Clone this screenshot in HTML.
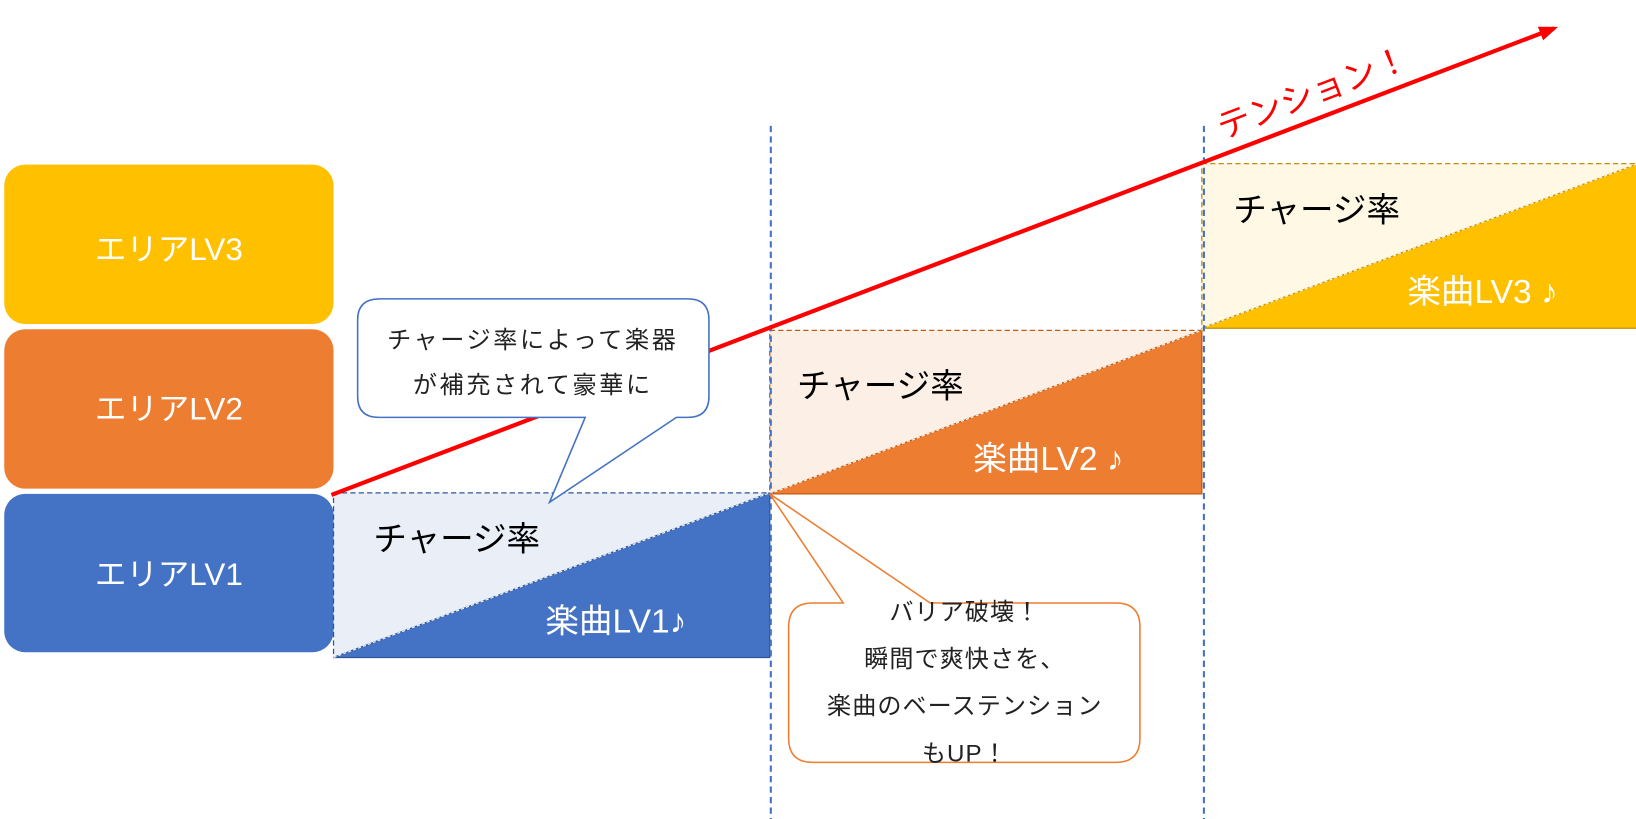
<!DOCTYPE html>
<html><head><meta charset="utf-8"><style>
html,body{margin:0;padding:0;background:#fff;}
svg{display:block;}
text{font-family:"Liberation Sans","Noto Sans CJK JP",sans-serif;}
</style></head><body>
<svg width="1636" height="819" viewBox="0 0 1560 781" xmlns="http://www.w3.org/2000/svg">
<defs>
<marker id="ah" markerWidth="18" markerHeight="14" refX="14" refY="7" orient="auto" markerUnits="userSpaceOnUse"><path d="M0,0 L18,7 L0,14 z" fill="#FF0000"/></marker>
</defs>
<rect x="4" y="157" width="314" height="152" rx="20" fill="#FFC000"/>
<rect x="4" y="314" width="314" height="152" rx="20" fill="#ED7D31"/>
<rect x="4" y="471" width="314" height="151" rx="20" fill="#4472C4"/>
<text x="161" y="248" font-size="30" fill="#fff" text-anchor="middle">エリアLV3</text>
<text x="161" y="400" font-size="30" fill="#fff" text-anchor="middle">エリアLV2</text>
<text x="161" y="558" font-size="30" fill="#fff" text-anchor="middle">エリアLV1</text>

<polygon points="318,470 734,470 318,627" fill="#E9EEF7" stroke="#2F5597" stroke-width="1.2" stroke-dasharray="5,3"/>
<polygon points="318,627 734,470 734,627" fill="#4472C4" stroke="#2F5597" stroke-width="1.2"/>
<line x1="318" y1="627" x2="734" y2="470" stroke="#fff" stroke-width="1" stroke-dasharray="3,2"/>
<text x="356" y="525" font-size="32" fill="#000">チャージ率</text>
<text x="520" y="603" font-size="32" fill="#fff">楽曲LV1♪</text>

<polygon points="734,315 1146,315 734,471" fill="#FBEFE6" stroke="#C55A11" stroke-width="1.2" stroke-dasharray="5,3"/>
<polygon points="734,471 1146,315 1146,471" fill="#ED7D31" stroke="#C55A11" stroke-width="1.2"/>
<line x1="734" y1="471" x2="1146" y2="315" stroke="#fff" stroke-width="1" stroke-dasharray="3,2"/>
<text x="760" y="379" font-size="32" fill="#000">チャージ率</text>
<text x="928" y="448" font-size="32" fill="#fff">楽曲LV2 ♪</text>

<polygon points="1146,156 1562,156 1146,313" fill="#FFF8E5" stroke="#BF9000" stroke-width="1.2" stroke-dasharray="5,3"/>
<polygon points="1146,313 1562,156 1562,313" fill="#FFC000" stroke="#BF9000" stroke-width="1.2"/>
<line x1="1146" y1="313" x2="1562" y2="156" stroke="#fff" stroke-width="1" stroke-dasharray="3,2"/>
<text x="1176" y="211" font-size="32" fill="#000">チャージ率</text>
<text x="1342" y="289" font-size="32" fill="#fff">楽曲LV3 ♪</text>

<line x1="735" y1="120" x2="735" y2="782" stroke="#4472C4" stroke-width="2" stroke-dasharray="6,4"/>
<line x1="1148" y1="120" x2="1148" y2="782" stroke="#4472C4" stroke-width="2" stroke-dasharray="6,4"/>

<line x1="316" y1="472" x2="1482" y2="27" stroke="#FF0000" stroke-width="4" marker-end="url(#ah)"/>
<text x="1166" y="133" font-size="32" fill="#FF0000" transform="rotate(-20.9 1166 133)">テンション！</text>

<path d="M362,285 H656 Q676,285 676,305 V378 Q676,398 656,398 H645 L524,479 L558,398 H361 Q341,398 341,378 V305 Q341,285 362,285 Z" fill="#fff" stroke="#4472C4" stroke-width="1.5"/>
<text x="508" y="332" font-size="23" fill="#222" text-anchor="middle" letter-spacing="2.5">チャージ率によって楽器</text>
<text x="508" y="375" font-size="23" fill="#222" text-anchor="middle" letter-spacing="2.5">が補充されて豪華に</text>

<path d="M775,575 H804 L734,471 L887,575 H1064 Q1087,575 1087,598 V704 Q1087,727 1064,727 H775 Q752,727 752,704 V598 Q752,575 775,575 Z" fill="#fff" stroke="#ED7D31" stroke-width="1.5"/>
<text x="920" y="591" font-size="23" fill="#222" text-anchor="middle" letter-spacing="1">バリア破壊！</text>
<text x="920" y="636" font-size="23" fill="#222" text-anchor="middle" letter-spacing="1">瞬間で爽快さを、</text>
<text x="920" y="681" font-size="23" fill="#222" text-anchor="middle" letter-spacing="1">楽曲のベーステンション</text>
<text x="920" y="726" font-size="23" fill="#222" text-anchor="middle" letter-spacing="1">もUP！</text>
</svg>
</body></html>
